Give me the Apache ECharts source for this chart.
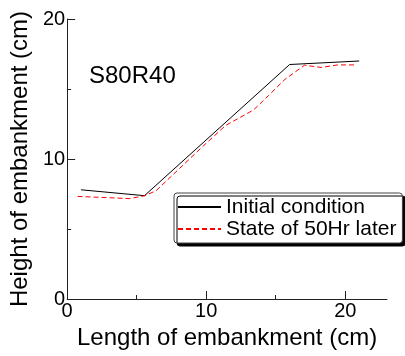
<!DOCTYPE html>
<html>
<head>
<meta charset="utf-8">
<script src="https://cdn.jsdelivr.net/npm/echarts@6/dist/echarts.min.js"></script>
<style>
html,body{margin:0;padding:0;background:#fff;}
#chart{width:405px;height:356px;}
</style>
</head>
<body>
<div id="chart"></div>
<script>
// ---- data ----
const seriesNames = ['Initial condition', 'State of 50Hr later'];
const initialX = [1.0, 5.56, 16.0, 21.0];
const initialY = [7.8, 7.38, 16.75, 17.0];
const laterX = [0.75, 4.5, 5.6, 6.4, 9.7, 11.4, 13.4, 14.5, 15.65, 17.07, 18.26, 19.45, 20.8];
const laterY = [7.33, 7.17, 7.38, 7.74, 10.85, 12.4, 13.5, 14.55, 15.68, 16.7, 16.54, 16.72, 16.72];
const xMajorTicks = [0, 10, 20];
const xMinorTicks = [5, 15];
const annotation = 'S80R40';
const xTitle = 'Length of embankment (cm)';
const yTitle = 'Height of embankment (cm)';

const FONT = "'Liberation Sans', Arial, sans-serif";
const pairs = (xs, ys) => xs.map((x, i) => [x, ys[i]]);

const chart = echarts.init(document.getElementById('chart'), null, {renderer: 'canvas'});
chart.setOption({
  animation: false,
  backgroundColor: '#fff',
  title: {
    text: annotation,
    left: 89, top: 64, padding: 0,
    textStyle: {fontFamily: FONT, fontSize: 24, fontWeight: 'normal', color: '#000'}
  },
  grid: {left: 63, top: 19, width: 324, height: 280},
  legend: {
    orient: 'vertical',
    left: 174, top: 193,
    data: seriesNames,
    itemWidth: 43, itemHeight: 12, itemGap: 0,
    padding: [3, 6, 3, 3],
    backgroundColor: '#fff',
    borderColor: '#444', borderWidth: 1, borderRadius: 3,
    shadowColor: '#000', shadowBlur: 0, shadowOffsetX: 3, shadowOffsetY: 3,
    itemStyle: {opacity: 0},
    textStyle: {fontFamily: FONT, fontSize: 21, color: '#000', lineHeight: 22}
  },
  xAxis: [{
    type: 'value', min: 0, max: 23,
    name: xTitle, nameLocation: 'middle', nameGap: 27,
    nameTextStyle: {fontFamily: FONT, fontSize: 24, color: '#000'},
    axisLine: {show: true, lineStyle: {color: '#222', width: 1}},
    axisTick: {show: true, inside: true, length: 8, customValues: xMajorTicks, lineStyle: {color: '#222'}},
    axisLabel: {customValues: xMajorTicks, fontFamily: FONT, fontSize: 20, color: '#000', margin: 2},
    splitLine: {show: false}
  }, {
    type: 'value', min: 0, max: 23, position: 'bottom',
    axisLine: {show: false},
    axisTick: {show: true, inside: true, length: 4, customValues: xMinorTicks, lineStyle: {color: '#222'}},
    axisLabel: {show: false},
    splitLine: {show: false}
  }],
  yAxis: {
    type: 'value', min: 0, max: 20, interval: 10,
    name: yTitle, nameLocation: 'middle', nameGap: 30,
    nameTextStyle: {fontFamily: FONT, fontSize: 24, color: '#000'},
    axisLine: {show: true, lineStyle: {color: '#222', width: 1}},
    axisTick: {show: true, inside: true, length: 8, lineStyle: {color: '#222'}},
    minorTick: {show: true, splitNumber: 2, length: 4, lineStyle: {color: '#222'}},
    axisLabel: {fontFamily: FONT, fontSize: 20, color: '#000', margin: 2},
    splitLine: {show: false}
  },
  series: [{
    name: seriesNames[0], type: 'line', symbol: 'none',
    data: pairs(initialX, initialY),
    lineStyle: {color: '#000', width: 1, type: 'solid'},
    itemStyle: {color: '#000'}
  }, {
    name: seriesNames[1], type: 'line', symbol: 'none',
    data: pairs(laterX, laterY),
    lineStyle: {color: '#ff0000', width: 1, type: [5, 3]},
    itemStyle: {color: '#ff0000'}
  }]
});
</script>
</body>
</html>
